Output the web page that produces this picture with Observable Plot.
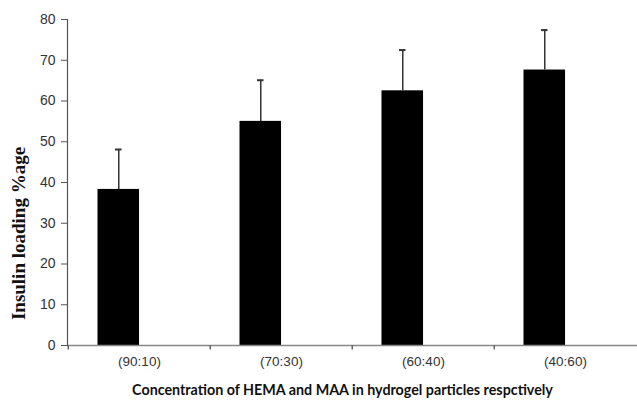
<!DOCTYPE html>
<html>
<head>
<meta charset="utf-8">
<script src="https://cdn.jsdelivr.net/npm/d3@7"></script>
<script src="https://cdn.jsdelivr.net/npm/@observablehq/plot@0.6"></script>
<style>
  html, body { margin: 0; padding: 0; background: #fff; overflow: hidden; }
</style>
</head>
<body>
<div id="chart"></div>
<script>
const categories = ["(90:10)", "(70:30)", "(60:40)", "(40:60)"];
const loading = [38.3, 55.0, 62.5, 67.6];
const errors = [9.8, 10.1, 10.0, 9.8];
const yTicks = [0, 10, 20, 30, 40, 50, 60, 70, 80];
const yTitle = "Insulin loading %age";
const xTitle = "Concentration of HEMA and MAA in hydrogel particles respctively";

const data = categories.map((c, i) => ({cat: c, v: loading[i], e: errors[i]}));

const W = 637, H = 400;
const mL = 67, mR = 0, mT = 19, mB = 55;
const band = (W - mL - mR) / categories.length;
const barL = band * 0.207, barW = band * 0.295;
const barC = barL + barW / 2;
const capW = 7;

const chart = Plot.plot({
  width: W,
  height: H,
  marginLeft: mL,
  marginRight: mR,
  marginTop: mT,
  marginBottom: mB,
  style: {fontFamily: "'Liberation Sans', Arial, sans-serif", fontSize: "13.5px", color: "#333", background: "#fff"},
  x: {type: "band", domain: categories, padding: 0, label: null},
  y: {domain: [0, 80], label: null},
  marks: [
    Plot.barY(data, {x: "cat", y: "v", fill: "black", insetLeft: barL, insetRight: band - barL - barW}),
    Plot.ruleX(data, {x: "cat", y1: "v", y2: d => d.v + d.e, dx: barC - band / 2, stroke: "#333", strokeWidth: 1.5}),
    Plot.tickY(data, {x: "cat", y: d => d.v + d.e, insetLeft: barC - capW / 2, insetRight: band - barC - capW / 2, stroke: "#333", strokeWidth: 2}),
    Plot.ruleY([0], {stroke: "#888", strokeWidth: 1.5}),
    Plot.ruleX(categories, {x: d => d, y1: 0, y2: -1.1, dx: -band / 2, stroke: "#666", strokeWidth: 1.5}),
    Plot.axisX({tickSize: 0, tickPadding: 11, fontSize: 13.5, label: null, fill: "#333"}),
    Plot.frame({anchor: "left", stroke: "#555", strokeWidth: 1.2}),
    Plot.axisY({ticks: yTicks, tickSize: 6, tickPadding: 6, fontSize: 14, label: null, stroke: "#555", fill: "#333"}),
    Plot.text([yTitle], {text: d => d, frameAnchor: "left", textAnchor: "middle", rotate: -90, dx: -49, dy: 51, fontFamily: "'Liberation Serif', 'Times New Roman', serif", fontWeight: "bold", fontSize: 19, letterSpacing: "1.2px", fill: "#111"}),
    Plot.text([xTitle], {text: d => d, frameAnchor: "bottom", dx: -10, dy: 45, lineAnchor: "middle", fontFamily: "Lato, 'Open Sans', sans-serif", fontWeight: "bold", fontSize: 14.3, fill: "#111"})
  ]
});
document.getElementById("chart").appendChild(chart);
</script>
</body>
</html>
